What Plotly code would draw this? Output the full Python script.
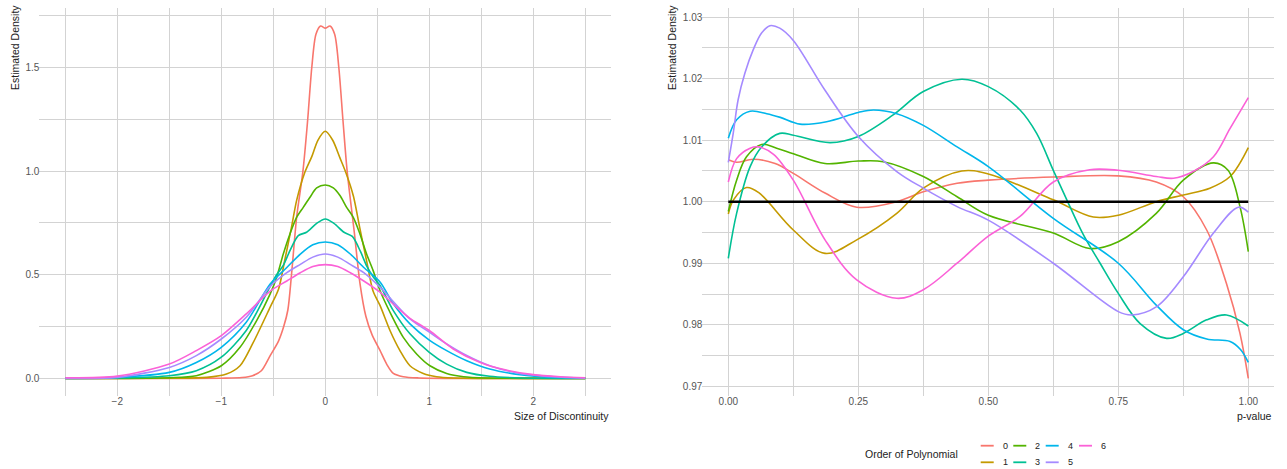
import plotly.graph_objects as go

# ---------------------------------------------------------------------------
# Series definitions
# ---------------------------------------------------------------------------
ORDERS = ["0", "1", "2", "3", "4", "5", "6"]
COLORS = ["#F8766D", "#C49A00", "#53B400", "#00C094", "#00B6EB", "#A58AFF", "#FB61D7"]

# Estimated density of the size of the discontinuity, by polynomial order
disc_x0 = [-2.5, -1.5, -1.0, -0.8, -0.7, -0.615, -0.53, -0.45, -0.4, -0.36, -0.325, -0.275,
           -0.215, -0.17, -0.13, -0.09, -0.045, 0.0, 0.045, 0.09, 0.13, 0.17, 0.21, 0.28,
           0.333, 0.39, 0.45, 0.526, 0.59, 0.654, 0.75, 0.9, 1.2, 2.5]
disc_y0 = [0.0, 0.0, 0.001, 0.004, 0.013, 0.037, 0.11, 0.18, 0.25, 0.33, 0.50, 0.78,
           1.0, 1.244, 1.50, 1.66, 1.70, 1.69, 1.70, 1.66, 1.50, 1.244, 1.0, 0.70,
           0.46, 0.30, 0.21, 0.135, 0.069, 0.024, 0.008, 0.002, 0.0, 0.0]

disc_x1 = [-2.5, -1.5, -1.14, -0.95, -0.82, -0.7, -0.53, -0.45, -0.39, -0.325, -0.275, -0.2,
           -0.13, -0.07, 0.0, 0.07, 0.14, 0.2, 0.27, 0.33, 0.4, 0.46, 0.526, 0.622, 0.718,
           0.814, 0.942, 1.07, 1.23, 1.5, 2.5]
disc_y1 = [0.0, 0.001, 0.005, 0.021, 0.061, 0.166, 0.344, 0.43, 0.57, 0.73, 0.86, 0.99,
           1.07, 1.15, 1.192, 1.15, 1.065, 0.99, 0.88, 0.73, 0.56, 0.42, 0.352, 0.231, 0.134,
           0.061, 0.024, 0.008, 0.002, 0.0, 0.0]

disc_x2 = [-2.5, -2.0, -1.5, -1.24, -1.0, -0.82, -0.66, -0.53, -0.468, -0.404, -0.34, -0.276,
           -0.212, -0.147, -0.083, 0.0, 0.077, 0.141, 0.205, 0.269, 0.333, 0.397, 0.46, 0.526,
           0.622, 0.75, 0.878, 1.006, 1.167, 1.33, 1.55, 2.0, 2.5]
disc_y2 = [0.0, 0.0, 0.003, 0.013, 0.061, 0.150, 0.279, 0.408, 0.487, 0.60, 0.697, 0.777,
           0.825, 0.874, 0.919, 0.933, 0.919, 0.882, 0.825, 0.777, 0.697, 0.60, 0.52, 0.424,
           0.319, 0.198, 0.118, 0.061, 0.024, 0.008, 0.002, 0.0, 0.0]

disc_x3 = [-2.5, -2.0, -1.5, -1.24, -1.0, -0.76, -0.53, -0.468, -0.404, -0.34, -0.26, -0.18,
           -0.083, 0.0, 0.083, 0.18, 0.26, 0.34, 0.40, 0.46, 0.526, 0.654, 0.814, 1.0, 1.167,
           1.36, 1.58, 1.9, 2.5]
disc_y3 = [0.0, 0.002, 0.013, 0.037, 0.102, 0.231, 0.444, 0.50, 0.545, 0.616, 0.689, 0.705,
           0.748, 0.769, 0.748, 0.705, 0.685, 0.61, 0.54, 0.49, 0.448, 0.327, 0.215, 0.126, 0.069,
           0.029, 0.010, 0.002, 0.0]

disc_x4 = [-2.5, -2.0, -1.5, -1.24, -1.0, -0.76, -0.53, -0.37, -0.24, -0.12, 0.0, 0.12, 0.24,
           0.37, 0.526, 0.654, 0.814, 1.0, 1.167, 1.36, 1.58, 1.87, 2.19, 2.5]
disc_y4 = [0.001, 0.005, 0.029, 0.077, 0.150, 0.271, 0.455, 0.535, 0.60, 0.645, 0.658, 0.645, 0.60,
           0.535, 0.465, 0.360, 0.263, 0.185, 0.134, 0.085, 0.045, 0.018, 0.005, 0.002]

disc_x5 = [-2.5, -2.0, -1.5, -1.24, -1.0, -0.76, -0.53, -0.37, -0.24, -0.12, 0.0, 0.12, 0.24,
           0.37, 0.526, 0.814, 1.0, 1.167, 1.36, 1.58, 1.87, 2.19, 2.5]
disc_y5 = [0.0, 0.005, 0.053, 0.110, 0.190, 0.295, 0.444, 0.51, 0.55, 0.585, 0.60, 0.585, 0.55,
           0.51, 0.44, 0.287, 0.223, 0.166, 0.110, 0.061, 0.024, 0.008, 0.001]

disc_x6 = [-2.5, -2.0, -1.5, -1.24, -1.0, -0.76, -0.53, -0.37, -0.24, -0.12, 0.0, 0.12, 0.24,
           0.37, 0.526, 0.686, 0.814, 1.0, 1.23, 1.49, 1.74, 2.0, 2.26, 2.5]
disc_y6 = [0.003, 0.011, 0.069, 0.134, 0.206, 0.311, 0.421, 0.47, 0.51, 0.54, 0.549, 0.54, 0.51,
           0.47, 0.416, 0.344, 0.29, 0.231, 0.142, 0.077, 0.040, 0.018, 0.008, 0.003]

# Estimated density of p-values, by polynomial order
pval_x0 = [0.0, 0.016, 0.048, 0.09, 0.125, 0.186, 0.247, 0.324, 0.375, 0.44, 0.5, 0.625,
           0.75, 0.823, 0.875, 0.92, 0.958, 0.984, 1.0]
pval_y0 = [1.0068, 1.0064, 1.0069, 1.0062, 1.0046, 1.0014, 0.9991, 1.0000, 1.0016, 1.0030,
           1.0035, 1.0040, 1.0042, 1.0032, 1.0008, 0.9954, 0.9867, 0.9786, 0.9713]

pval_x1 = [0.0, 0.01, 0.035, 0.058, 0.125, 0.186, 0.247, 0.324, 0.375, 0.449, 0.5, 0.625,
           0.702, 0.75, 0.823, 0.875, 0.926, 0.965, 1.0]
pval_y1 = [0.9980, 1.0003, 1.0023, 1.0015, 0.9954, 0.9916, 0.9938, 0.9981, 1.0022, 1.0050,
           1.0045, 1.0003, 0.9975, 0.9978, 1.0000, 1.0011, 1.0022, 1.0041, 1.0088]

pval_x2 = [0.0, 0.016, 0.035, 0.064, 0.093, 0.125, 0.186, 0.25, 0.298, 0.375, 0.44, 0.5,
           0.625, 0.695, 0.75, 0.823, 0.875, 0.933, 0.961, 0.984, 1.0]
pval_y2 = [0.9984, 1.0035, 1.0073, 1.0093, 1.0087, 1.0078, 1.0062, 1.0066, 1.0065, 1.0041,
           1.0008, 0.9978, 0.9949, 0.9924, 0.9935, 0.9981, 1.0035, 1.0063, 1.0051, 0.9992, 0.9919]

pval_x3 = [0.0, 0.016, 0.042, 0.064, 0.099, 0.125, 0.196, 0.25, 0.317, 0.375, 0.449, 0.5,
           0.561, 0.593, 0.625, 0.651, 0.683, 0.715, 0.75, 0.792, 0.843, 0.875, 0.92, 0.958, 1.0]
pval_y3 = [0.9908, 0.9981, 1.0057, 1.0089, 1.0111, 1.0108, 1.0096, 1.0106, 1.0141, 1.0179,
           1.0199, 1.0187, 1.0149, 1.0111, 1.0051, 1.0003, 0.9946, 0.9900, 0.9851, 0.9802,
           0.9778, 0.9786, 0.9808, 0.9816, 0.9798]

pval_x4 = [0.0, 0.016, 0.042, 0.074, 0.1, 0.138, 0.189, 0.25, 0.279, 0.324, 0.375, 0.44, 0.5,
           0.625, 0.75, 0.823, 0.875, 0.92, 0.965, 0.985, 1.0]
pval_y4 = [1.0103, 1.0133, 1.0147, 1.0143, 1.0137, 1.0126, 1.0130, 1.0145, 1.0149, 1.0143,
           1.0124, 1.0089, 1.0057, 0.9973, 0.9900, 0.9832, 0.9792, 0.9777, 0.9773, 0.9760, 0.9739]

pval_x5 = [0.0, 0.0096, 0.019, 0.032, 0.048, 0.064, 0.08, 0.099, 0.125, 0.186, 0.25, 0.324,
           0.375, 0.44, 0.5, 0.625, 0.75, 0.776, 0.823, 0.875, 0.933, 0.981, 1.0]
pval_y5 = [1.0064, 1.0112, 1.0166, 1.0209, 1.0247, 1.0274, 1.0286, 1.0282, 1.0262, 1.0181,
           1.0106, 1.0049, 1.0022, 0.9992, 0.9970, 0.9900, 0.98214, 0.9816, 0.9829, 0.9878,
           0.9949, 0.9991, 0.9983]

pval_x6 = [0.0, 0.016, 0.042, 0.058, 0.087, 0.125, 0.186, 0.247, 0.324, 0.375, 0.44, 0.5,
           0.561, 0.625, 0.695, 0.75, 0.823, 0.856, 0.894, 0.933, 0.965, 1.0]
pval_y6 = [1.0032, 1.0070, 1.0087, 1.0089, 1.0077, 1.0035, 0.9938, 0.9873, 0.9843, 0.9857,
           0.9900, 0.9944, 0.9976, 1.0032, 1.0052, 1.0051, 1.0041, 1.0038, 1.0049, 1.0073,
           1.0119, 1.0169]

# Uniform reference density for p-values
UNIFORM_X = [0.0, 1.0]
UNIFORM_Y = [1.0, 1.0]

DISC_X = [disc_x0, disc_x1, disc_x2, disc_x3, disc_x4, disc_x5, disc_x6]
DISC_Y = [disc_y0, disc_y1, disc_y2, disc_y3, disc_y4, disc_y5, disc_y6]
PVAL_X = [pval_x0, pval_x1, pval_x2, pval_x3, pval_x4, pval_x5, pval_x6]
PVAL_Y = [pval_y0, pval_y1, pval_y2, pval_y3, pval_y4, pval_y5, pval_y6]

# ---------------------------------------------------------------------------
# Figure
# ---------------------------------------------------------------------------
W, H = 1287, 469
FONT = "Liberation Sans, Arial, sans-serif"
GRID = "#d3d3d3"
TICK_COLOR = "#555555"
TEXT_COLOR = "#222222"
LINE_W = 1.6

fig = go.Figure()

for i, order in enumerate(ORDERS):
    fig.add_trace(go.Scatter(
        x=DISC_X[i], y=DISC_Y[i], mode="lines", name=order,
        line=dict(color=COLORS[i], width=LINE_W, shape="spline", smoothing=0.8),
        xaxis="x", yaxis="y", showlegend=False, hoverinfo="x+y+name"))

for i, order in enumerate(ORDERS):
    fig.add_trace(go.Scatter(
        x=PVAL_X[i], y=PVAL_Y[i], mode="lines", name=order,
        line=dict(color=COLORS[i], width=LINE_W, shape="spline", smoothing=1.0),
        xaxis="x2", yaxis="y2", showlegend=False, hoverinfo="x+y+name"))

fig.add_trace(go.Scatter(
    x=UNIFORM_X, y=UNIFORM_Y, mode="lines", name="Uniform",
    line=dict(color="#000000", width=2.6),
    xaxis="x2", yaxis="y2", showlegend=False, hoverinfo="skip"))


def px_x(p):
    return p / W


def px_y(p):
    return (H - p) / H


y_dom = [px_y(396), px_y(8)]
tickfont = dict(family=FONT, size=10, color=TICK_COLOR)
common = dict(showline=False, zeroline=False, ticks="", gridcolor=GRID, gridwidth=1,
              tickfont=tickfont)

fig.update_layout(
    width=W, height=H,
    margin=dict(l=0, r=0, t=0, b=0),
    paper_bgcolor="white", plot_bgcolor="white",
    showlegend=False,
    font=dict(family=FONT, color=TEXT_COLOR),
    xaxis=dict(domain=[px_x(39.3), px_x(611.3)], range=[-2.75, 2.75], anchor="y",
               tick0=0, dtick=1, ticklabelstandoff=-2,
               minor=dict(dtick=0.5, tick0=0, showgrid=True, gridcolor=GRID, gridwidth=1),
               **common),
    yaxis=dict(domain=y_dom, range=[-0.085, 1.787], anchor="x",
               tick0=0, dtick=0.5, tickformat=".1f", ticklabelstandoff=-1,
               minor=dict(dtick=0.25, tick0=0, showgrid=True, gridcolor=GRID, gridwidth=1),
               **common),
    xaxis2=dict(domain=[px_x(702.3), px_x(1274.3)], range=[-0.05, 1.05], anchor="y2",
                tick0=0, dtick=0.25, tickformat=".2f", ticklabelstandoff=-2,
                minor=dict(dtick=0.125, tick0=0, showgrid=True, gridcolor=GRID, gridwidth=1),
                **common),
    yaxis2=dict(domain=y_dom, range=[0.96843, 1.03147], anchor="x2",
                tick0=0.97, dtick=0.01, tickformat=".2f", ticklabelstandoff=-1,
                minor=dict(dtick=0.005, tick0=0.97, showgrid=True, gridcolor=GRID, gridwidth=1),
                **common),
)

title_font = dict(family=FONT, size=10.5, color=TEXT_COLOR)
annotations = [
    dict(text="Estimated Density", x=px_x(15), y=px_y(48), xref="paper", yref="paper",
         textangle=-90, showarrow=False, xanchor="center", yanchor="middle", font=title_font),
    dict(text="Estimated Density", x=px_x(672), y=px_y(48), xref="paper", yref="paper",
         textangle=-90, showarrow=False, xanchor="center", yanchor="middle", font=title_font),
    dict(text="Size of Discontinuity", x=px_x(611), y=px_y(416), xref="paper", yref="paper",
         showarrow=False, xanchor="right", yanchor="middle", font=title_font),
    dict(text="p-value", x=px_x(1274), y=px_y(416), xref="paper", yref="paper",
         showarrow=False, xanchor="right", yanchor="middle", font=title_font),
    dict(text="Order of Polynomial", x=px_x(960), y=px_y(454), xref="paper", yref="paper",
         showarrow=False, xanchor="right", yanchor="middle", font=title_font),
]

# Legend keys laid out in columns of two
shapes = []
key_cols = [980.7, 1013.3, 1045.7, 1079.0]
key_rows = [445.7, 462.3]
for i, order in enumerate(ORDERS):
    cx = key_cols[i // 2]
    cy = key_rows[i % 2]
    shapes.append(dict(type="line", xref="paper", yref="paper",
                       x0=px_x(cx), x1=px_x(cx + 13), y0=px_y(cy), y1=px_y(cy),
                       line=dict(color=COLORS[i], width=1.8)))
    annotations.append(dict(text=order, x=px_x(cx + 20), y=px_y(cy), xref="paper",
                            yref="paper", showarrow=False, xanchor="left", yanchor="middle",
                            font=dict(family=FONT, size=9, color=TEXT_COLOR)))

fig.update_layout(annotations=annotations, shapes=shapes)

fig.write_html("out.html")
